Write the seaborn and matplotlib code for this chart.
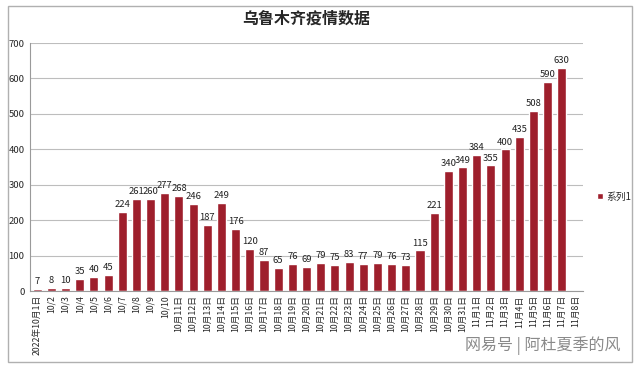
import pandas as pd
import matplotlib.pyplot as plt
import seaborn as sns
from matplotlib.patches import Rectangle

dates = ["2022年10月1日"] + ["10/%d" % d for d in range(2, 11)] \
    + ["10月%d日" % d for d in range(11, 32)] + ["11月%d日" % d for d in range(1, 9)]
cases = [7, 8, 10, 35, 40, 45, 224, 261, 260, 277,
         268, 246, 187, 249, 176, 120, 87, 65, 76, 69, 79, 75, 83, 77, 79, 76, 73,
         115, 221, 340, 349,
         384, 355, 400, 435, 508, 590, 630]

df = pd.DataFrame({"date": dates[:len(cases)], "cases": cases})

sns.set_style("white")
plt.rcParams['font.family'] = ['Noto Sans CJK SC', 'DejaVu Sans']

fig = plt.figure(figsize=(6.4, 3.68), dpi=100)
ax = fig.add_axes([0.047, 0.209, 0.864, 0.674])

sns.barplot(data=df, x="date", y="cases", order=dates, color="#9e1f2c",
            saturation=1, width=0.64, ax=ax, label="系列1")
ax.bar_label(ax.containers[0], fmt="%d", fontsize=6.8, padding=2, color="#222222")

ax.set_ylim(0, 700)
ax.set_yticks(range(0, 701, 100))
ax.set_xlim(-0.5, len(dates) - 0.5)
ax.yaxis.grid(True, color="#bdbdbd", linewidth=0.8)
ax.set_axisbelow(True)
ax.set_xlabel("")
ax.set_ylabel("")
ax.tick_params(axis="x", labelrotation=90, labelsize=6.3, length=0, pad=3)
ax.tick_params(axis="y", labelsize=6.8, length=0, pad=4)
for s in ["top", "right"]:
    ax.spines[s].set_visible(False)
ax.spines["left"].set_color("#9a9a9a")
ax.spines["bottom"].set_color("#9a9a9a")

ax.set_title("乌鲁木齐疫情数据", fontsize=11.5, fontweight="bold", pad=14)

ax.legend(loc="center left", bbox_to_anchor=(1.01, 0.38), frameon=False,
          fontsize=7, handlelength=0.6, handleheight=0.6, handletextpad=0.3)

fig.patches.append(Rectangle((0.012, 0.015), 0.976, 0.97, transform=fig.transFigure,
                             fill=False, edgecolor="#b0b0b0", linewidth=1))
fig.text(0.97, 0.06, "网易号 | 阿杜夏季的风", ha="right", va="center",
         fontsize=11.5, color="#8a8a8a")

fig.savefig("out.png", dpi=100)
